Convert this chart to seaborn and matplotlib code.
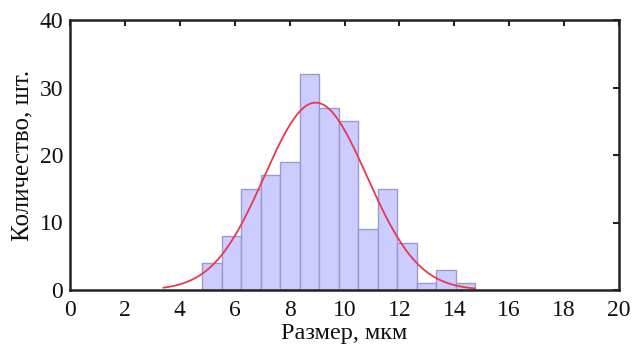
import numpy as np
import pandas as pd
import matplotlib
matplotlib.use("Agg")
import matplotlib.pyplot as plt
import seaborn as sns

# Histogram data
bin_start = 4.81
bin_width = 0.711
counts = [4, 8, 15, 17, 19, 32, 27, 25, 9, 15, 7, 1, 3, 1]

# Fitted normal curve parameters
fit_mu = 8.95
fit_sigma = 1.87
fit_range = [3.4, 14.75]

x_ticks = [0, 2, 4, 6, 8, 10, 12, 14, 16, 18, 20]
y_ticks = [0, 10, 20, 30, 40]

sns.set_theme(style="white")
plt.rcParams['font.family'] = ['Liberation Serif', 'DejaVu Serif']
plt.rcParams['mathtext.fontset'] = 'stix'

n = len(counts)
edges = [float(bin_start + bin_width * i) for i in range(n + 1)]
centers = [(edges[i] + edges[i + 1]) / 2 for i in range(n)]
df = pd.DataFrame({"size": centers, "count": counts})

fig = plt.figure(figsize=(6.32, 3.54), dpi=100)
ax = fig.add_axes([70 / 632, 1 - 290 / 354, (619 - 70) / 632, (290 - 20) / 354])

sns.histplot(data=df, x="size", weights="count", bins=edges, ax=ax,
             color="#ccccff", edgecolor="#9a9ad0", linewidth=1.0, alpha=1.0)

total = sum(counts)
xs = np.linspace(fit_range[0], fit_range[1], 300)
ys = total * bin_width / (fit_sigma * np.sqrt(2 * np.pi)) * np.exp(-0.5 * ((xs - fit_mu) / fit_sigma) ** 2)
sns.lineplot(x=xs, y=ys, ax=ax, color="#e8384f", linewidth=1.3)

ax.set_xlim(0, 20)
ax.set_ylim(0, 40)
ax.set_xticks(x_ticks)
ax.set_yticks(y_ticks)
ax.set_xticklabels([str(t) for t in x_ticks])
ax.set_yticklabels([str(t) for t in y_ticks])
ax.tick_params(direction="in", length=4, width=1.5, top=True, right=True,
               labelsize=17, colors="#222222")
ax.tick_params(axis="x", pad=7)
ax.tick_params(axis="y", pad=5)
ax.tick_params(axis="both", labelcolor="#111111")
for s in ax.spines.values():
    s.set_linewidth(1.8)
    s.set_color("#222222")
    s.set_visible(True)

ax.set_xlabel("Размер, мкм", fontsize=17.5, color="#111111", labelpad=2)
ax.set_ylabel("Количество, шт.", fontsize=18, color="#111111", labelpad=4)

fig.savefig("out.png", dpi=100)
